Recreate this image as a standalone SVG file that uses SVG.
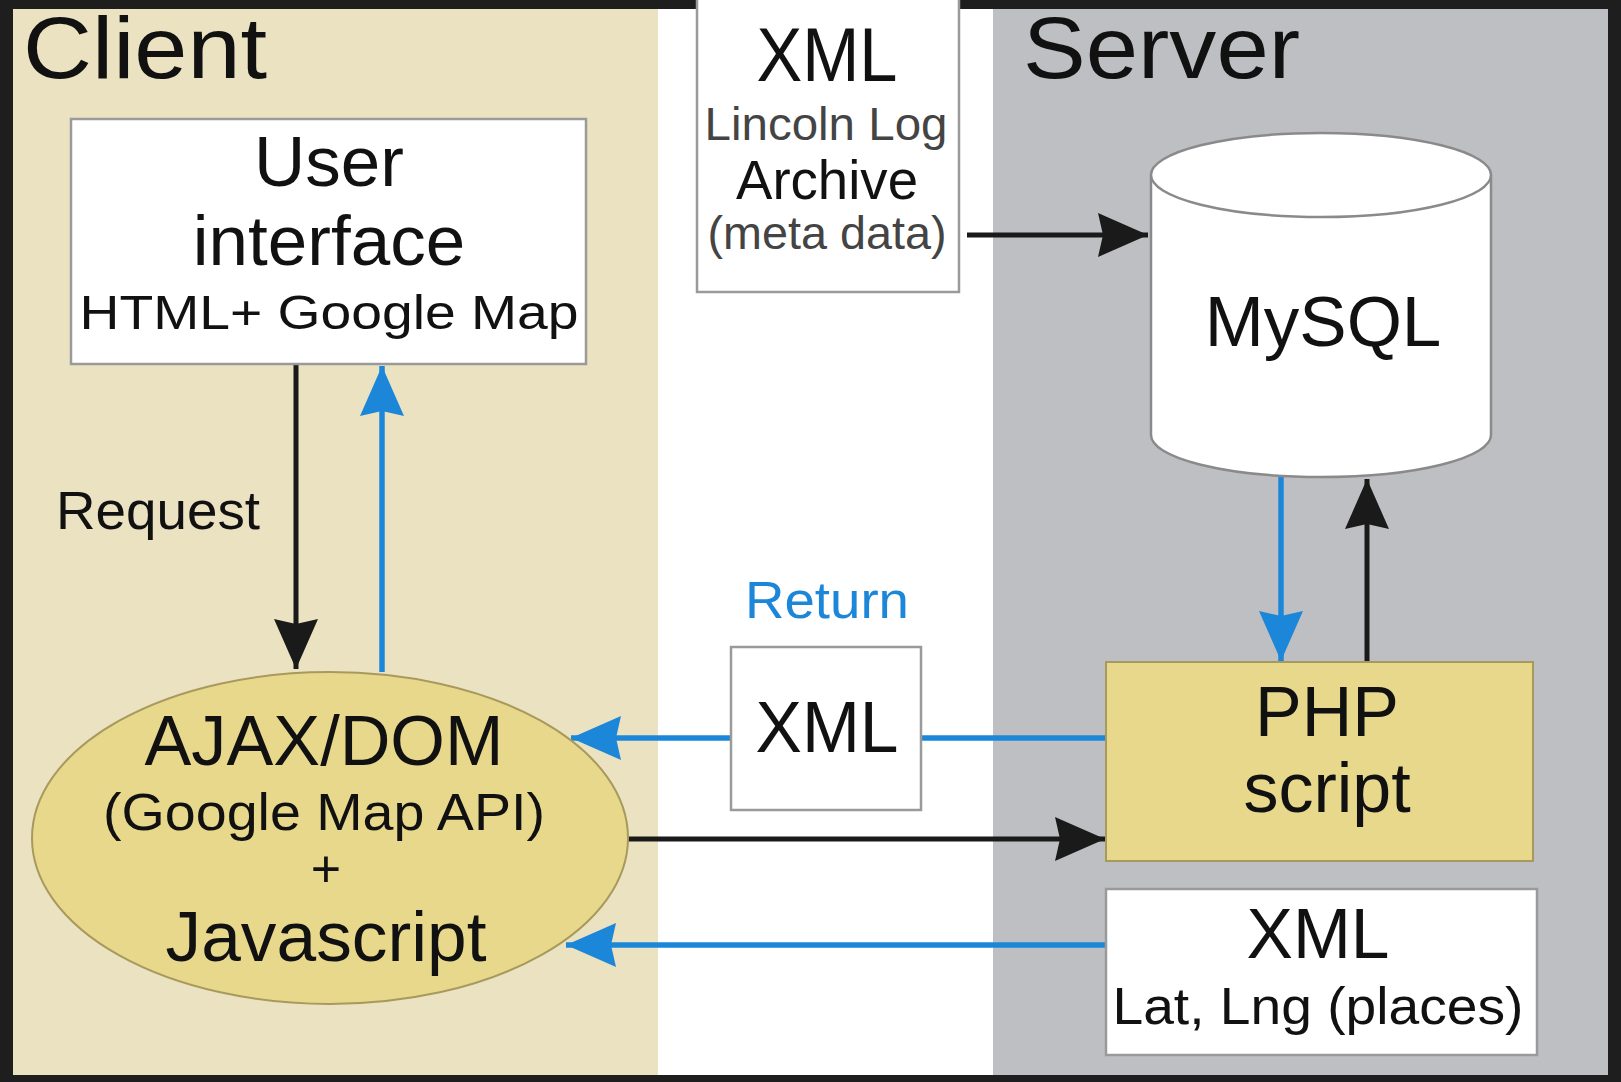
<svg xmlns="http://www.w3.org/2000/svg" width="1621" height="1082" viewBox="0 0 1621 1082">
<style>
text{font-family:"Liberation Sans",Arial,sans-serif;fill:#111;text-anchor:middle}
.box{fill:#fff;stroke:#9a9a9a;stroke-width:2.5}
.yel{fill:#E8D88C;stroke:#a89a5c;stroke-width:2}
.blk{stroke:#1a1a1a;stroke-width:5;fill:none}
.blu{stroke:#1C87D9;stroke-width:5.5;fill:none}
.grey{fill:#444}
</style>
<defs>
<marker id="ab" markerUnits="userSpaceOnUse" markerWidth="52" markerHeight="46" refX="50" refY="22" orient="auto">
<path d="M0,0 L50,22 L0,44 L5,22 z" fill="#1a1a1a"/>
</marker>
<marker id="au" markerUnits="userSpaceOnUse" markerWidth="52" markerHeight="46" refX="50" refY="22" orient="auto">
<path d="M0,0 L50,22 L0,44 L5,22 z" fill="#1C87D9"/>
</marker>
</defs>
<rect x="0" y="0" width="1621" height="1082" fill="#1e1e1e"/>
<rect x="13" y="9" width="645" height="1066" fill="#EBE2C1"/>
<rect x="658" y="9" width="335" height="1066" fill="#ffffff"/>
<rect x="993" y="9" width="615" height="1066" fill="#BEBFC3"/>
<text x="23" y="78" font-size="88" style="text-anchor:start" textLength="244" lengthAdjust="spacingAndGlyphs">Client</text>
<text x="1023" y="78" font-size="88" style="text-anchor:start" textLength="277" lengthAdjust="spacingAndGlyphs">Server</text>

<g id="connectors">
<line class="blk" x1="296" y1="364" x2="296" y2="669" marker-end="url(#ab)"/>
<line class="blu" x1="382" y1="672" x2="382" y2="366" marker-end="url(#au)"/>
<line class="blk" x1="967" y1="235" x2="1148" y2="235" marker-end="url(#ab)"/>
<line class="blu" x1="1281" y1="477" x2="1281" y2="661" marker-end="url(#au)"/>
<line class="blk" x1="1367" y1="662" x2="1367" y2="479" marker-end="url(#ab)"/>
<line class="blu" x1="1106" y1="738" x2="921" y2="738"/>
<line class="blu" x1="731" y1="738" x2="571" y2="738" marker-end="url(#au)"/>
<line class="blk" x1="628" y1="839" x2="1105" y2="839" marker-end="url(#ab)"/>
<line class="blu" x1="1106" y1="945" x2="566" y2="945" marker-end="url(#au)"/>
<text x="158" y="529" font-size="54" fill="#222" textLength="204" lengthAdjust="spacingAndGlyphs">Request</text>
<text x="827" y="618" font-size="52" style="fill:#1C87D9" textLength="164" lengthAdjust="spacingAndGlyphs">Return</text>
</g>

<g id="user-interface">
<rect class="box" x="71" y="119" width="515" height="245"/>
<text x="329" y="186" font-size="71">User</text>
<text x="329" y="265" font-size="71">interface</text>
<text x="329" y="329" font-size="48" textLength="499" lengthAdjust="spacingAndGlyphs">HTML+ Google Map</text>
</g>

<g id="lincoln-log">
<rect class="box" x="697" y="-5" width="262" height="297"/>
<text x="827" y="81" font-size="76" textLength="141" lengthAdjust="spacingAndGlyphs">XML</text>
<text class="grey" x="826" y="140" font-size="46" textLength="243" lengthAdjust="spacingAndGlyphs">Lincoln Log</text>
<text x="827" y="199" font-size="56" fill="#222" textLength="182" lengthAdjust="spacingAndGlyphs">Archive</text>
<text class="grey" x="827" y="249" font-size="46" textLength="239" lengthAdjust="spacingAndGlyphs">(meta data)</text>
</g>

<g id="mysql">
<path d="M1151,175 L1151,435 A170,42 0 0 0 1491,435 L1491,175" fill="#fff" stroke="#8a8a8a" stroke-width="2.5"/>
<ellipse cx="1321" cy="175" rx="170" ry="42" fill="#fff" stroke="#8a8a8a" stroke-width="2.5"/>
<text x="1323" y="346" font-size="71">MySQL</text>
</g>

<g id="return-xml">
<rect class="box" x="731" y="647" width="190" height="163"/>
<text x="827" y="752" font-size="72" textLength="143" lengthAdjust="spacingAndGlyphs">XML</text>
</g>

<g id="php-script">
<rect class="yel" x="1106" y="662" width="427" height="199"/>
<text x="1327" y="736" font-size="70">PHP</text>
<text x="1327" y="812" font-size="70">script</text>
</g>

<g id="xml-places">
<rect class="box" x="1106" y="889" width="431" height="166"/>
<text x="1318" y="958" font-size="70" textLength="143" lengthAdjust="spacingAndGlyphs">XML</text>
<text x="1318" y="1024" font-size="52" textLength="411" lengthAdjust="spacingAndGlyphs">Lat, Lng (places)</text>
</g>

<g id="ajax-dom">
<ellipse class="yel" cx="330" cy="838" rx="298" ry="166"/>
<text x="324" y="765" font-size="70" textLength="359" lengthAdjust="spacingAndGlyphs">AJAX/DOM</text>
<text x="324" y="830" font-size="52" textLength="442" lengthAdjust="spacingAndGlyphs">(Google Map API)</text>
<text x="326" y="887" font-size="52">+</text>
<text x="326" y="961" font-size="71" textLength="321" lengthAdjust="spacingAndGlyphs">Javascript</text>
</g>
</svg>
